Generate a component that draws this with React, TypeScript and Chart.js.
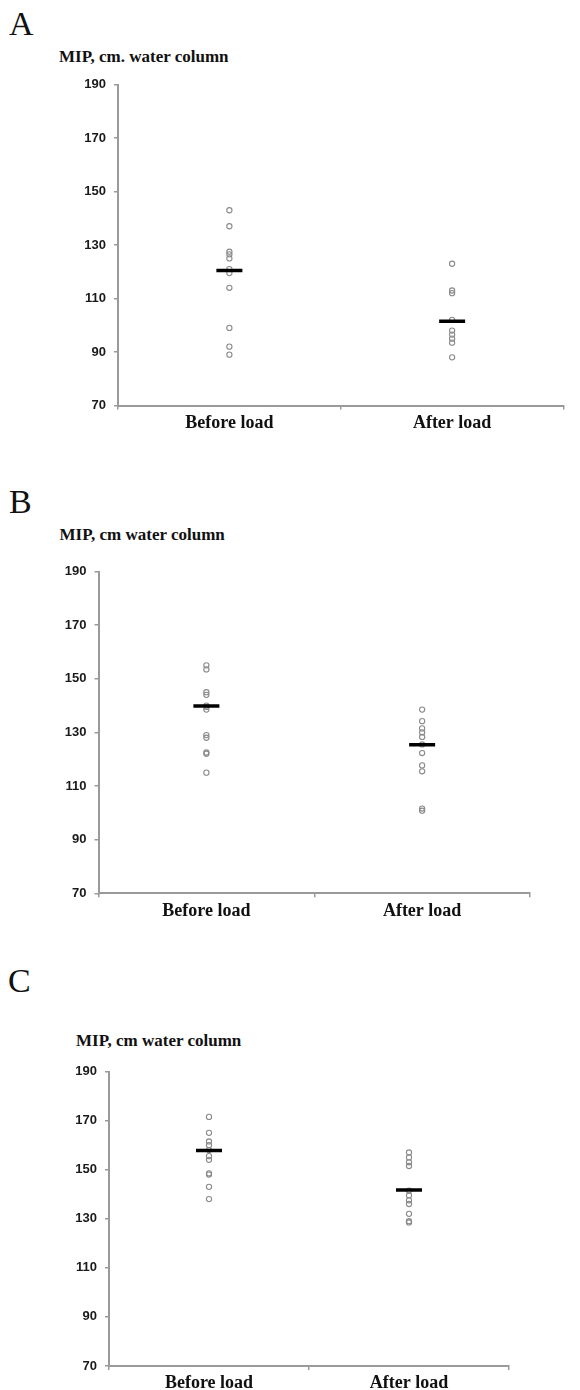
import React, { useEffect, useRef } from 'react';
import { Chart, registerables } from 'chart.js';
Chart.register(...registerables);

const categories = ['Before load', 'After load'];
const yMin = 70;
const yMax = 190;
const yStep = 20;

const beforeA = [143, 137, 127.5, 126.5, 125, 121, 119.5, 114, 99, 92, 89];
const afterA = [123, 113, 112, 102, 98, 96.5, 95, 93.5, 88];
const medianA = [120.5, 101.5];

const beforeB = [155, 153.5, 145, 144, 140, 139.5, 138.5, 129, 128, 122.5, 122, 115];
const afterB = [138.5, 134.2, 131.5, 130, 128.3, 125.5, 122.3, 117.7, 115.5, 101.6, 100.8];
const medianB = [139.8, 125.4];

const beforeC = [171.5, 165, 161.5, 160, 158, 155.5, 154, 148.5, 148, 143, 138];
const afterC = [157, 155, 153, 151.5, 141.5, 139.5, 137.5, 136, 132, 129, 128.5];
const medianC = [157.8, 141.7];

const AXIS_COLOR = '#9a9a9a';
const POINT_COLOR = '#8a8a8a';

type PanelProps = {
  letter: string;
  letterX: number;
  letterTop: number;
  title: string;
  titleX: number;
  titleTop: number;
  axisX: number;
  rightX: number;
  plotTop: number;
  plotBottom: number;
  canvasTop: number;
  canvasBottom: number;
  before: number[];
  after: number[];
  medians: number[];
};

function Panel(p: PanelProps) {
  const ref = useRef<HTMLCanvasElement>(null);
  const width = 580;
  const height = p.canvasBottom - p.canvasTop;

  useEffect(() => {
    if (!ref.current) return;
    const pts = [
      ...p.before.map((v) => ({ x: categories[0], y: v })),
      ...p.after.map((v) => ({ x: categories[1], y: v })),
    ];
    const med = p.medians.map((v, i) => ({ x: categories[i], y: v }));
    const chart = new Chart(ref.current, {
      type: 'scatter',
      data: {
        labels: categories,
        datasets: [
          {
            data: med as any,
            pointStyle: 'line',
            pointRadius: 13,
            pointBorderWidth: 3.5,
            borderColor: '#000',
            backgroundColor: '#000',
            order: 0,
          },
          {
            data: pts as any,
            pointStyle: 'circle',
            pointRadius: 2.6,
            pointBorderWidth: 1.1,
            borderColor: POINT_COLOR,
            backgroundColor: 'rgba(255,255,255,0)',
            order: 1,
          },
        ],
      },
      options: {
        responsive: false,
        animation: false,
        devicePixelRatio: 1,
        events: [],
        layout: {
          padding: { top: p.plotTop - p.canvasTop, left: 0, right: width - p.rightX, bottom: 0 },
        },
        plugins: { legend: { display: false }, tooltip: { enabled: false } },
        scales: {
          x: {
            type: 'category',
            offset: true,
            grid: {
              display: true,
              offset: true,
              drawOnChartArea: false,
              drawTicks: true,
              tickLength: 4,
              color: AXIS_COLOR,
              lineWidth: 1.5,
            },
            border: { display: true, color: AXIS_COLOR, width: 2 },
            ticks: {
              color: '#111',
              padding: 3,
              maxRotation: 0,
              autoSkip: false,
              font: { family: '"Liberation Serif", "Times New Roman", serif', weight: 'bold', size: 18 },
            },
            afterFit: (scale: any) => {
              scale.height = p.canvasBottom - p.plotBottom;
            },
          } as any,
          y: {
            type: 'linear',
            min: yMin,
            max: yMax,
            ticks: {
              stepSize: yStep,
              color: '#1a1a1a',
              padding: 8,
              font: { family: '"Liberation Sans", Arial, sans-serif', weight: 'bold', size: 13 },
            },
            grid: {
              display: true,
              drawOnChartArea: false,
              drawTicks: true,
              tickLength: 4,
              color: AXIS_COLOR,
              lineWidth: 1.5,
            },
            border: { display: true, color: AXIS_COLOR, width: 2 },
            afterFit: (scale: any) => {
              scale.width = p.axisX;
            },
          } as any,
        },
      },
    });
    return () => chart.destroy();
  }, []);

  return (
    <>
      <div
        style={{
          position: 'absolute',
          left: p.letterX,
          top: p.letterTop,
          fontFamily: '"Liberation Serif", "Times New Roman", serif',
          fontSize: 34,
          lineHeight: 1,
          color: '#111',
        }}
      >
        {p.letter}
      </div>
      <div
        style={{
          position: 'absolute',
          left: p.titleX,
          top: p.titleTop,
          fontFamily: '"Liberation Serif", "Times New Roman", serif',
          fontWeight: 'bold',
          fontSize: 17,
          lineHeight: 1,
          whiteSpace: 'nowrap',
          color: '#111',
        }}
      >
        {p.title}
      </div>
      <canvas
        ref={ref}
        width={width}
        height={height}
        style={{ position: 'absolute', left: 0, top: p.canvasTop, width, height }}
      />
    </>
  );
}

export default function App() {
  return (
    <div style={{ position: 'absolute', left: 0, top: 0, width: 580, height: 1390, background: '#fff', overflow: 'hidden' }}>
      <Panel
        letter="A"
        letterX={9}
        letterTop={6.5}
        title="MIP, cm. water column"
        titleX={59}
        titleTop={48.3}
        axisX={118}
        rightX={577}
        plotTop={82}
        plotBottom={405.5}
        canvasTop={68}
        canvasBottom={445}
        before={beforeA}
        after={afterA}
        medians={medianA}
      />
      <Panel
        letter="B"
        letterX={9}
        letterTop={484.5}
        title="MIP, cm water column"
        titleX={59.5}
        titleTop={525.8}
        axisX={98.5}
        rightX={530}
        plotTop={568.3}
        plotBottom={893.3}
        canvasTop={555}
        canvasBottom={930}
        before={beforeB}
        after={afterB}
        medians={medianB}
      />
      <Panel
        letter="C"
        letterX={8}
        letterTop={963.5}
        title="MIP, cm water column"
        titleX={76}
        titleTop={1031.8}
        axisX={109}
        rightX={509}
        plotTop={1068.3}
        plotBottom={1366}
        canvasTop={1055}
        canvasBottom={1390}
        before={beforeC}
        after={afterC}
        medians={medianC}
      />
    </div>
  );
}
